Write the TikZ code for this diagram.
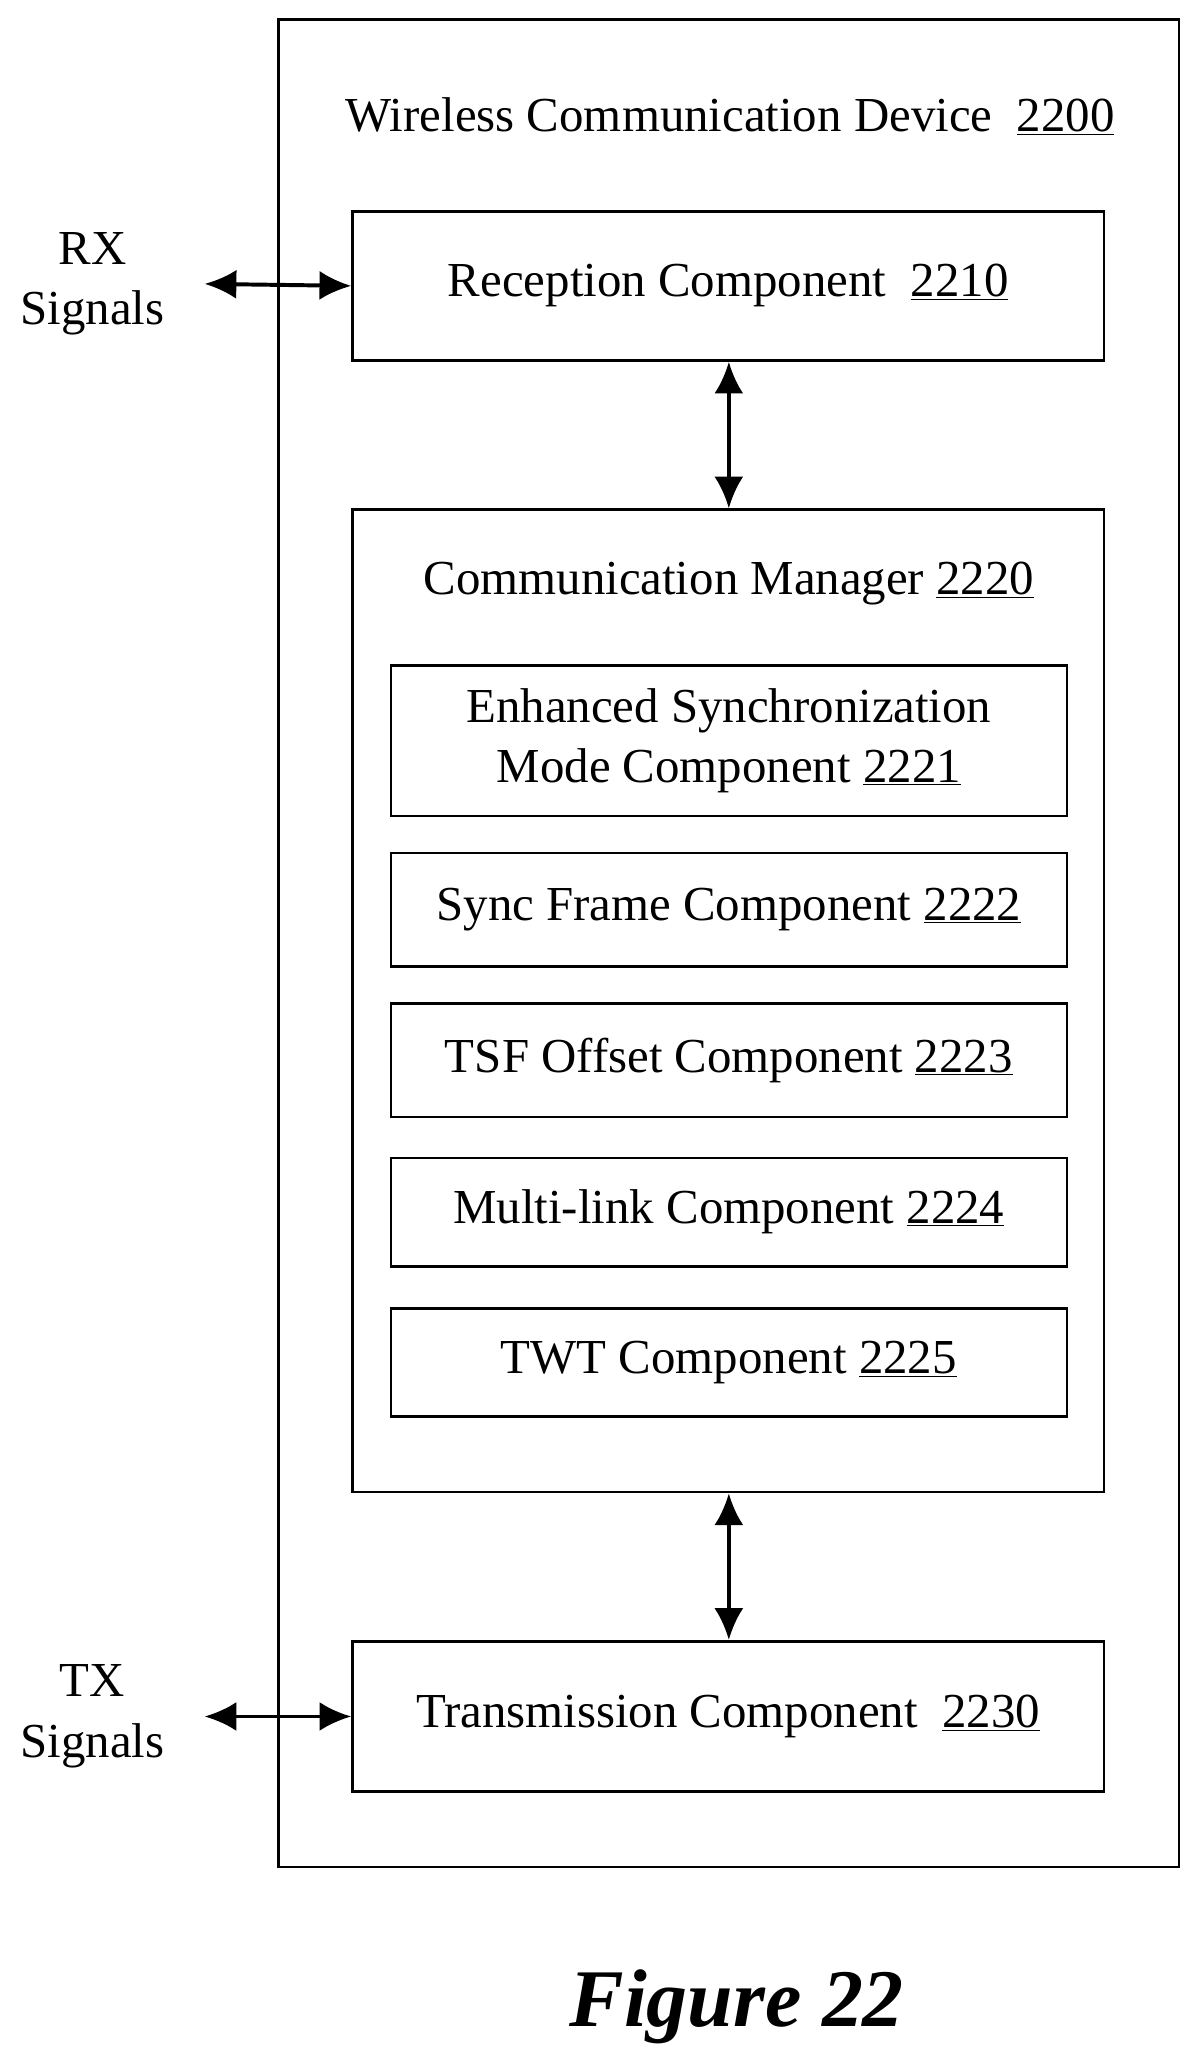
\documentclass[tikz,border=0pt]{standalone}
\usepackage{fontspec}
\setmainfont{Liberation Serif}
\usetikzlibrary{arrows.meta}
\begin{document}
\begin{tikzpicture}[x=1pt,y=-1pt,
  box/.style={draw,line width=2pt,inner sep=0pt},
  lab/.style={font=\fontsize{37}{46}\selectfont,align=center},
  arr/.style={line width=3pt,{Latex[length=24pt,width=22pt]}-{Latex[length=24pt,width=22pt]}}]
\useasboundingbox (0,0) rectangle (910,1567);
\fill[white] (0,0) rectangle (910,1567);
\node[box,minimum width=682pt,minimum height=1399pt] (dev) at (552,714.5) {};
\node[lab] (devt) at (553,88) {Wireless Communication Device\ \ \underline{2200}};
\node[box,lab,minimum width=569pt,minimum height=113pt] (rx) at (551.5,216.5) {Reception Component\ \ \underline{2210}};
\node[box,minimum width=569pt,minimum height=744pt] (cm) at (551.5,758) {};
\node[lab] (cmt) at (552,442) {Communication Manager \underline{2220}};
\node[box,lab,minimum width=512pt,minimum height=114pt] (c1) at (552,561) {Enhanced Synchronization\\Mode Component \underline{2221}};
\node[box,lab,minimum width=512pt,minimum height=86pt] (c2) at (552,689) {Sync Frame Component \underline{2222}};
\node[box,lab,minimum width=512pt,minimum height=86pt] (c3) at (552,803) {TSF Offset Component \underline{2223}};
\node[box,lab,minimum width=512pt,minimum height=82pt] (c4) at (552,918) {Multi-link Component \underline{2224}};
\node[box,lab,minimum width=512pt,minimum height=82pt] (c5) at (552,1032) {TWT Component \underline{2225}};
\node[box,lab,minimum width=569pt,minimum height=114pt] (tx) at (551.5,1300) {Transmission Component\ \ \underline{2230}};
\node[lab] (rxl) at (70,215) {RX\\Signals};
\node[lab] (txl) at (70,1300) {TX\\Signals};
\coordinate (rxe) at (155,215);
\coordinate (txe) at (155,1300);
\draw[arr] (rxe) -- (rx.west);
\draw[arr] (txe) -- (tx.west);
\draw[arr] (rx.south -| 552,0) -- (cm.north -| 552,0);
\draw[arr] (cm.south -| 552,0) -- (tx.north -| 552,0);
\node[font=\fontsize{62}{68}\selectfont\bfseries\itshape] (fig) at (558,1520) {Figure 22};
\end{tikzpicture}
\end{document}
